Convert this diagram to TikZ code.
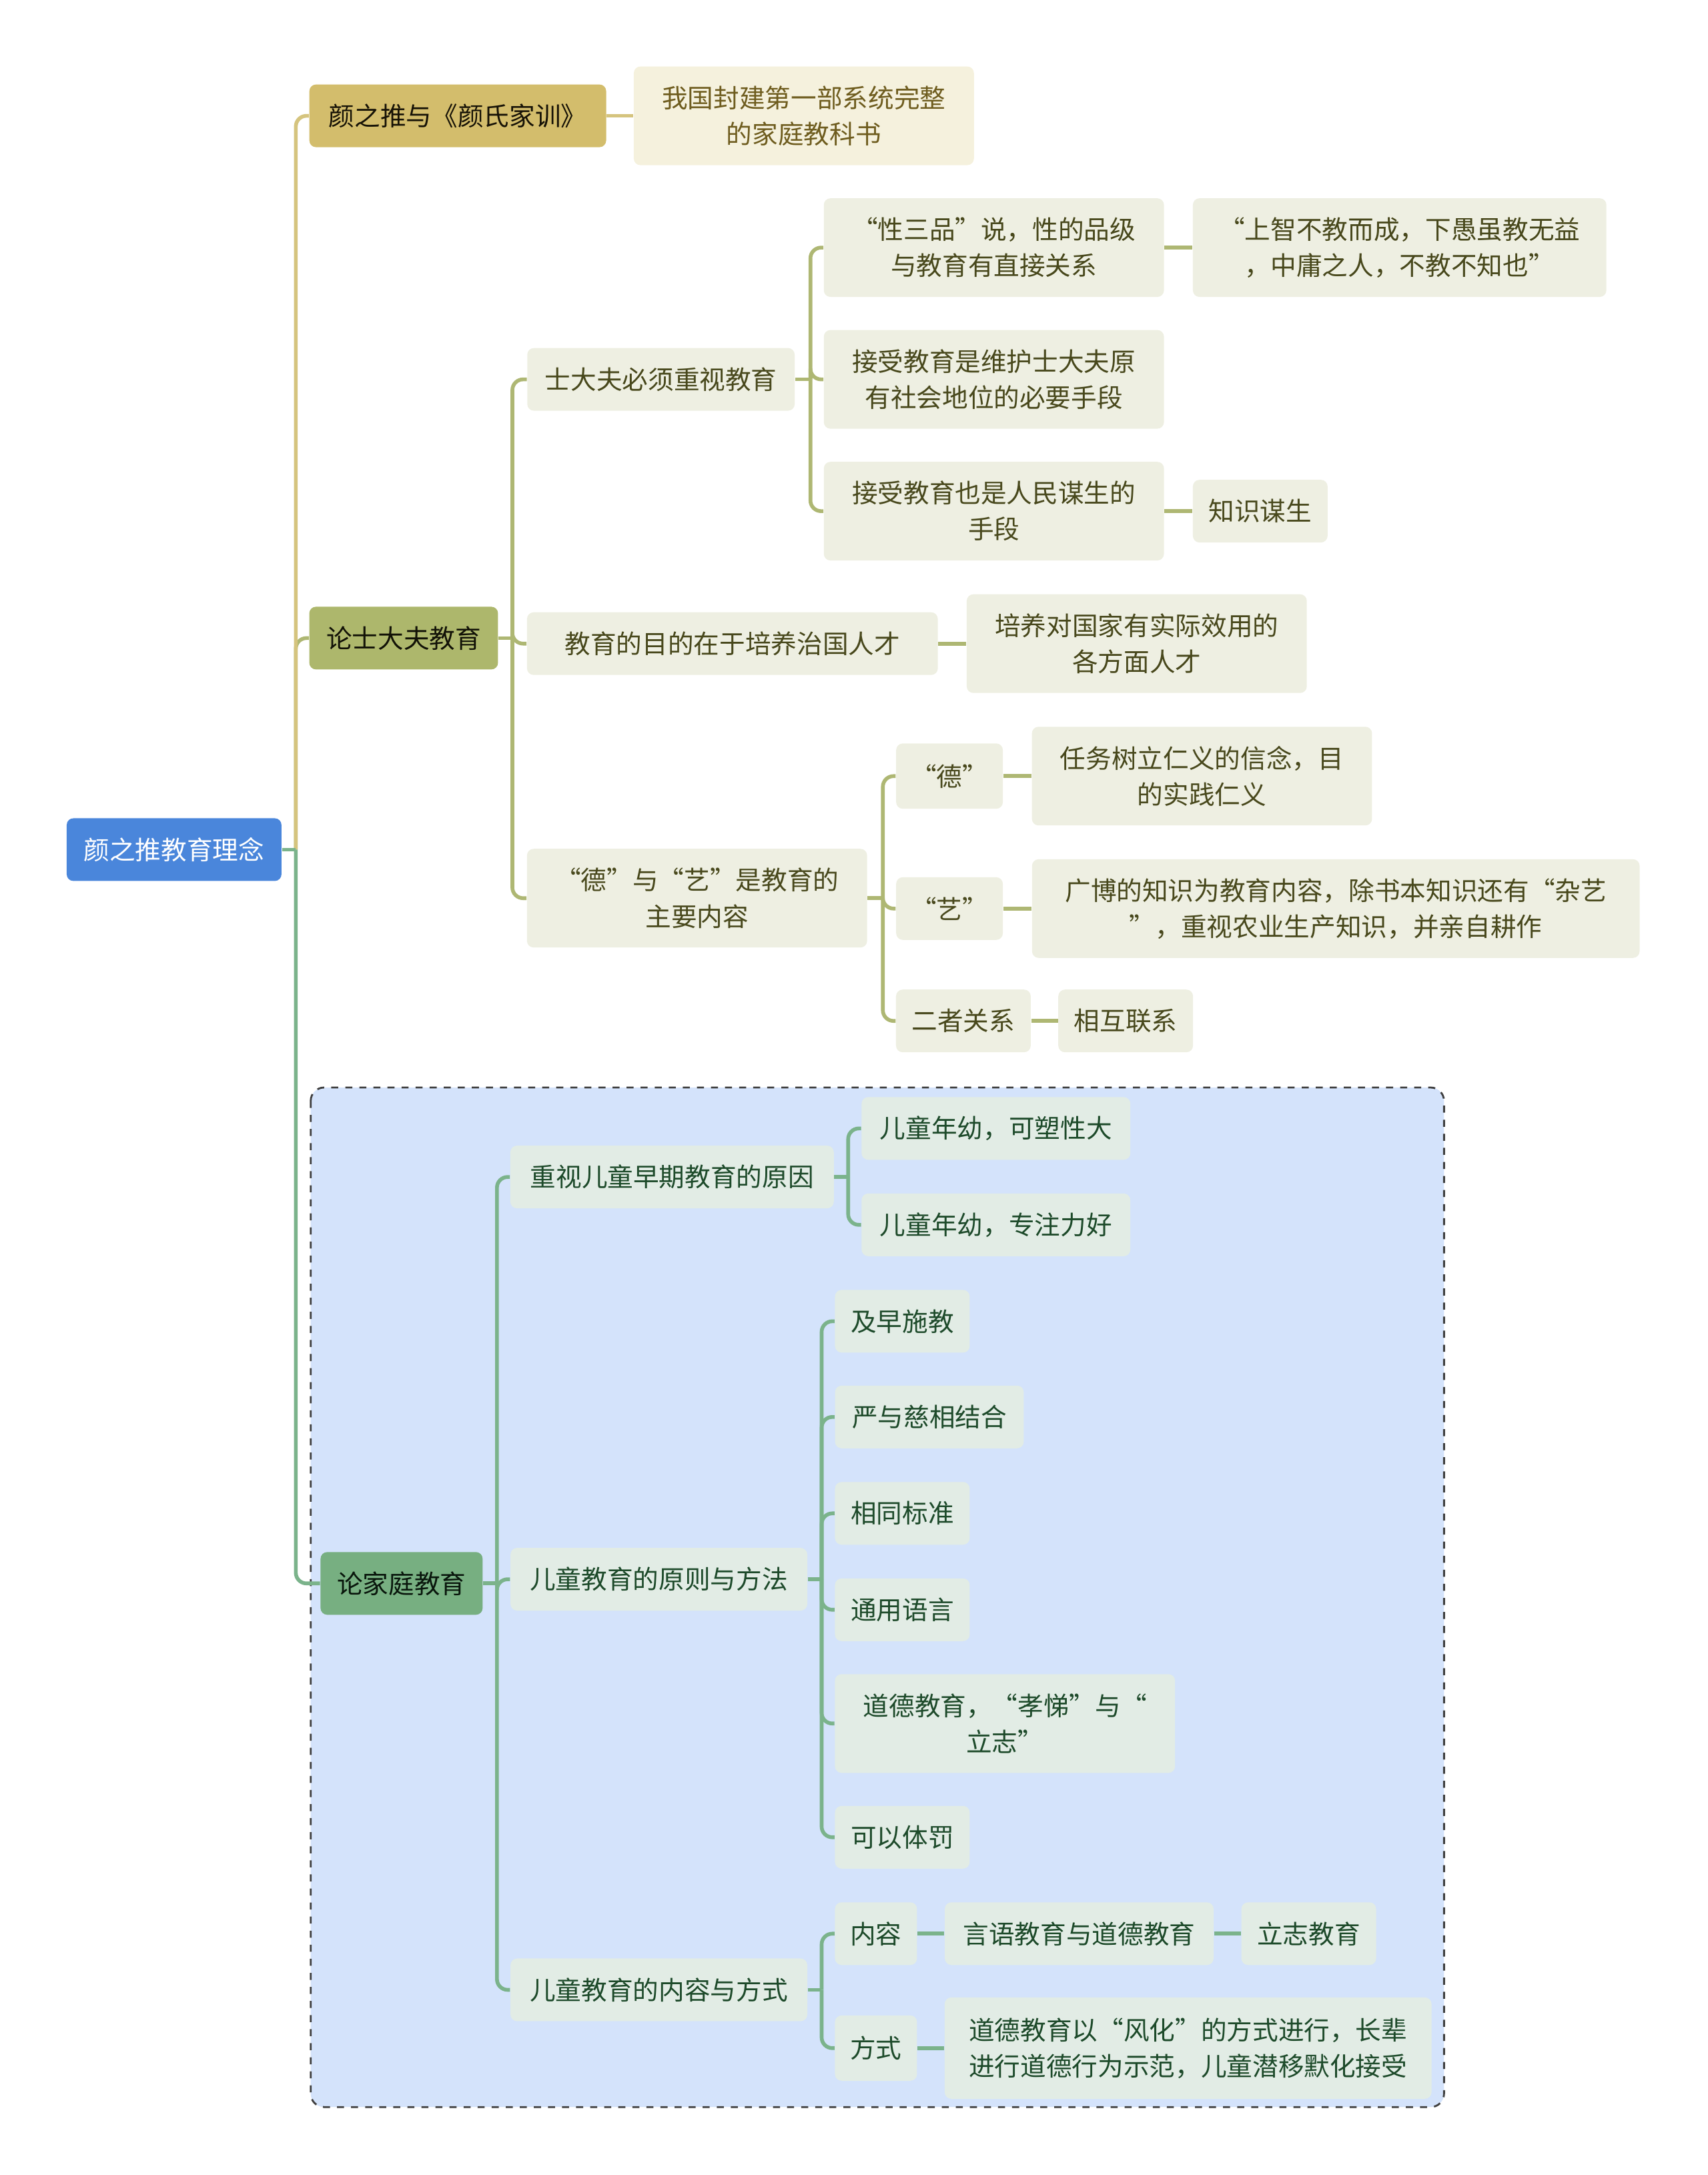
\documentclass[tikz,border=0pt]{standalone}
\usepackage{fontspec}
\newfontfamily\cjk{Noto Sans CJK SC}

\definecolor{rootblue}{HTML}{4A86DB}
\definecolor{goldfill}{HTML}{D3BD6C}
\definecolor{goldline}{HTML}{D5C47E}
\definecolor{goldsubfill}{HTML}{F5F1DD}
\definecolor{goldtext}{HTML}{6E5C1E}
\definecolor{olivefill}{HTML}{ADB76C}
\definecolor{oliveline}{HTML}{AEB773}
\definecolor{olivesubfill}{HTML}{EEEFE2}
\definecolor{olivetext}{HTML}{48481C}
\definecolor{greenfill}{HTML}{77AF81}
\definecolor{greenline}{HTML}{7BB38B}
\definecolor{greensubfill}{HTML}{E2ECE5}
\definecolor{greentext}{HTML}{1D4A2A}
\definecolor{groupblue}{HTML}{D4E3FB}

\begin{document}
\begin{tikzpicture}[x=0.020796cm,y=-0.020796cm,
  font=\cjk\fontsize{11pt}{15.4pt}\selectfont,
  box/.style={rounded corners=0.1cm,inner sep=0pt,align=center,minimum height=0.94cm},
  two/.style={minimum height=1.48cm},
  rootbox/.style={box,fill=rootblue,text=white},
  goldtop/.style={box,fill=goldfill,text=black!80!goldtext},
  olivetop/.style={box,fill=olivefill,text=black!75!olivetext},
  greentop/.style={box,fill=greenfill,text=black!70!greentext},
  goldsub/.style={box,fill=goldsubfill,text=goldtext},
  olivesub/.style={box,fill=olivesubfill,text=olivetext},
  greensub/.style={box,fill=greensubfill,text=greentext},
  goldln/.style={draw=goldline,line width=1.6pt,rounded corners=0.16cm},
  oliveln/.style={draw=oliveline,line width=1.6pt,rounded corners=0.16cm},
  greenln/.style={draw=greenline,line width=1.6pt,rounded corners=0.16cm}]
  \useasboundingbox (0,0) rectangle (1231,1568);

  % family group
  \draw[fill=groupblue,draw=black!75,dashed,line width=0.8pt,rounded corners=0.2cm]
    (224,784) rectangle (1041,1519);

  % root and first level
  \node[rootbox,minimum width=3.22cm] (root) at (125.5,612.5) {颜之推教育理念};
  \node[goldtop,minimum width=4.45cm] (book) at (330,83.5) {颜之推与《颜氏家训》};
  \node[olivetop,minimum width=2.83cm] (scholar) at (291,460) {论士大夫教育};
  \node[greentop,minimum width=2.43cm] (family) at (289.5,1141.5) {论家庭教育};

  % book
  \node[goldsub,two,minimum width=5.10cm] (first) at (579.5,83.5) {我国封建第一部系统完整\\的家庭教科书};

  % scholar
  \node[olivesub,minimum width=4.01cm] (must) at (476.5,273.5) {士大夫必须重视教育};
  \node[olivesub,minimum width=6.16cm] (aim) at (528,464) {教育的目的在于培养治国人才};
  \node[olivesub,two,minimum width=5.10cm] (deyi) at (502.5,647.5) {“德”与“艺”是教育的\\主要内容};
  \node[olivesub,two,minimum width=5.10cm] (xing) at (716.5,178.5) {“性三品”说，性的品级\\与教育有直接关系};
  \node[olivesub,two,minimum width=5.10cm] (keep) at (716.5,273.5) {接受教育是维护士大夫原\\有社会地位的必要手段};
  \node[olivesub,two,minimum width=5.10cm] (living) at (716.5,368.5) {接受教育也是人民谋生的\\手段};
  \node[olivesub,two,minimum width=6.20cm] (quote) at (1009,178.5) {“上智不教而成，下愚虽教无益\\，中庸之人，不教不知也”};
  \node[olivesub,minimum width=2.02cm] (know) at (908.5,368.5) {知识谋生};
  \node[olivesub,two,minimum width=5.10cm] (talent) at (819.5,464) {培养对国家有实际效用的\\各方面人才};
  \node[olivesub,minimum width=1.60cm,minimum height=0.98cm] (de) at (684.5,559.5) {“德”};
  \node[olivesub,minimum width=1.60cm] (yi) at (684.5,655) {“艺”};
  \node[olivesub,minimum width=2.02cm] (both) at (694.5,736) {二者关系};
  \node[olivesub,two,minimum width=5.10cm] (ren) at (866.5,559.5) {任务树立仁义的信念，目\\的实践仁义};
  \node[olivesub,two,minimum width=9.11cm] (broad) at (963,655) {广博的知识为教育内容，除书本知识还有“杂艺\\”，重视农业生产知识，并亲自耕作};
  \node[olivesub,minimum width=2.02cm] (link) at (811.5,736) {相互联系};

  % family
  \node[greensub,minimum width=4.85cm] (early) at (484.5,848.5) {重视儿童早期教育的原因};
  \node[greensub,minimum width=4.45cm] (rule) at (475,1138.5) {儿童教育的原则与方法};
  \node[greensub,minimum width=4.45cm] (content) at (475,1434.5) {儿童教育的内容与方式};
  \node[greensub,minimum width=4.03cm] (plastic) at (718,813.5) {儿童年幼，可塑性大};
  \node[greensub,minimum width=4.03cm] (focus) at (718,883) {儿童年幼，专注力好};
  \node[greensub,minimum width=2.02cm] (soon) at (650.5,952.5) {及早施教};
  \node[greensub,minimum width=2.83cm] (strict) at (670,1021.5) {严与慈相结合};
  \node[greensub,minimum width=2.02cm] (same) at (650.5,1091) {相同标准};
  \node[greensub,minimum width=2.02cm] (lang) at (650.5,1160.5) {通用语言};
  \node[greensub,two,minimum width=5.10cm] (moral) at (724.5,1242.5) {道德教育，“孝悌”与“\\立志”};
  \node[greensub,minimum width=2.02cm] (punish) at (650.5,1324.5) {可以体罚};
  \node[greensub,minimum width=1.23cm] (what) at (631.5,1394) {内容};
  \node[greensub,minimum width=1.23cm,minimum height=0.98cm] (how) at (631.5,1476.5) {方式};
  \node[greensub,minimum width=4.03cm] (speech) at (778,1394) {言语教育与道德教育};
  \node[greensub,minimum width=2.02cm] (will) at (943.5,1394) {立志教育};
  \node[greensub,two,minimum width=7.30cm,minimum height=1.52cm] (wind) at (856.5,1476.5) {道德教育以“风化”的方式进行，长辈\\进行道德行为示范，儿童潜移默化接受};

  % connectors: stub to a fork, then one rounded elbow per child
  \draw[oliveln] (root.east) -- ++(10,0) coordinate (rootfork);
  \draw[oliveln] (rootfork) |- (scholar.west);
  \draw[goldln] (rootfork) |- (book.west);
  \draw[greenln] (rootfork) |- (family.west);
  \draw[greenln] (root.east) -- (rootfork);
  \draw[goldln] (book.east) -- (first.west);

  \draw[oliveln] (scholar.east) -- ++(10,0) coordinate (scholarfork);
  \foreach \n in {must,aim,deyi}
    \draw[oliveln] (scholarfork) |- (\n.west);
  \draw[oliveln] (must.east) -- ++(11,0) coordinate (mustfork);
  \foreach \n in {xing,keep,living}
    \draw[oliveln] (mustfork) |- (\n.west);
  \draw[oliveln] (xing.east) -- (quote.west);
  \draw[oliveln] (living.east) -- (know.west);
  \draw[oliveln] (aim.east) -- (talent.west);
  \draw[oliveln] (deyi.east) -- ++(11,0) coordinate (deyifork);
  \foreach \n in {de,yi,both}
    \draw[oliveln] (deyifork) |- (\n.west);
  \draw[oliveln] (de.east) -- (ren.west);
  \draw[oliveln] (yi.east) -- (broad.west);
  \draw[oliveln] (both.east) -- (link.west);

  \draw[greenln] (family.east) -- ++(10,0) coordinate (familyfork);
  \foreach \n in {early,rule,content}
    \draw[greenln] (familyfork) |- (\n.west);
  \draw[greenln] (early.east) -- ++(10,0) coordinate (earlyfork);
  \foreach \n in {plastic,focus}
    \draw[greenln] (earlyfork) |- (\n.west);
  \draw[greenln] (rule.east) -- ++(10,0) coordinate (rulefork);
  \foreach \n in {soon,strict,same,lang,moral,punish}
    \draw[greenln] (rulefork) |- (\n.west);
  \draw[greenln] (content.east) -- ++(10,0) coordinate (contentfork);
  \foreach \n in {what,how}
    \draw[greenln] (contentfork) |- (\n.west);
  \draw[greenln] (what.east) -- (speech.west);
  \draw[greenln] (speech.east) -- (will.west);
  \draw[greenln] (how.east) -- (wind.west);
\end{tikzpicture}
\end{document}
